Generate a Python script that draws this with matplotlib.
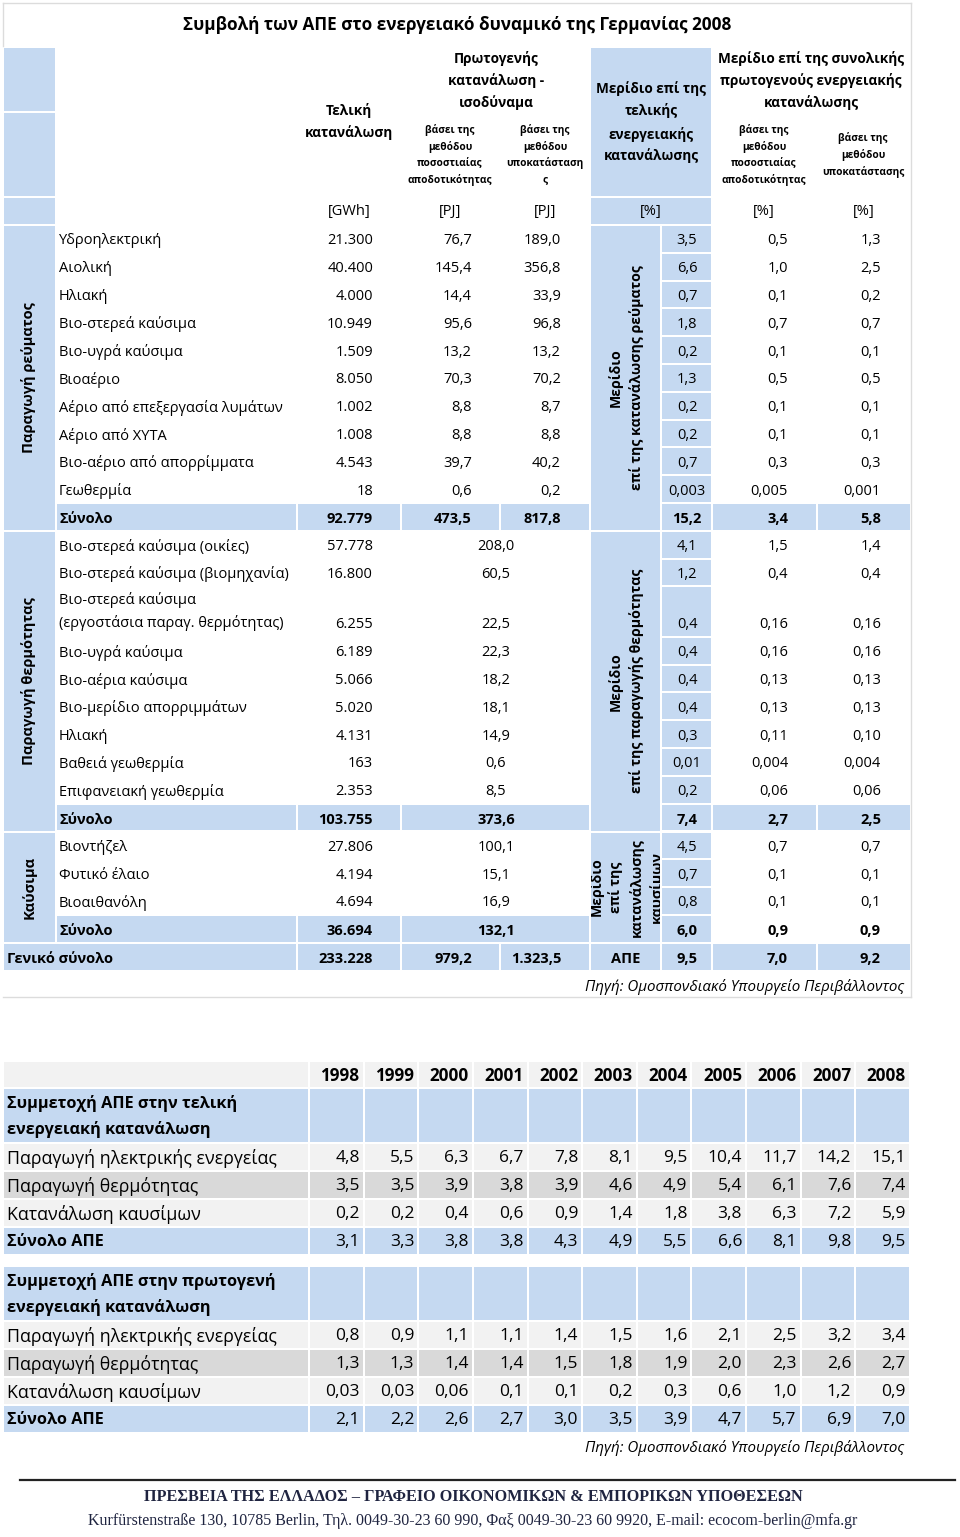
import matplotlib
matplotlib.use('Agg')
import matplotlib.pyplot as plt
from matplotlib.patches import Rectangle

plt.rcParams['font.family'] = ['Open Sans', 'DejaVu Sans']

# ---- data: top table (Germany 2008) ----
title = 'Συμβολή των ΑΠΕ στο ενεργειακό δυναμικό της Γερμανίας 2008'

elec_labels = ['Υδροηλεκτρική', 'Αιολική', 'Ηλιακή', 'Βιο-στερεά καύσιμα', 'Βιο-υγρά καύσιμα',
               'Βιοαέριο', 'Αέριο από επεξεργασία λυμάτων', 'Αέριο από ΧΥΤΑ',
               'Βιο-αέριο από απορρίμματα', 'Γεωθερμία', 'Σύνολο']
elec_gwh = ['21.300', '40.400', '4.000', '10.949', '1.509', '8.050', '1.002', '1.008', '4.543', '18', '92.779']
elec_pj_eff = ['76,7', '145,4', '14,4', '95,6', '13,2', '70,3', '8,8', '8,8', '39,7', '0,6', '473,5']
elec_pj_sub = ['189,0', '356,8', '33,9', '96,8', '13,2', '70,2', '8,7', '8,8', '40,2', '0,2', '817,8']
elec_share = ['3,5', '6,6', '0,7', '1,8', '0,2', '1,3', '0,2', '0,2', '0,7', '0,003', '15,2']
elec_prim_eff = ['0,5', '1,0', '0,1', '0,7', '0,1', '0,5', '0,1', '0,1', '0,3', '0,005', '3,4']
elec_prim_sub = ['1,3', '2,5', '0,2', '0,7', '0,1', '0,5', '0,1', '0,1', '0,3', '0,001', '5,8']

heat_labels = ['Βιο-στερεά καύσιμα (οικίες)', 'Βιο-στερεά καύσιμα (βιομηχανία)',
               'Βιο-στερεά καύσιμα\n(εργοστάσια παραγ. θερμότητας)', 'Βιο-υγρά καύσιμα',
               'Βιο-αέρια καύσιμα', 'Βιο-μερίδιο απορριμμάτων', 'Ηλιακή', 'Βαθειά γεωθερμία',
               'Επιφανειακή γεωθερμία', 'Σύνολο']
heat_gwh = ['57.778', '16.800', '6.255', '6.189', '5.066', '5.020', '4.131', '163', '2.353', '103.755']
heat_pj = ['208,0', '60,5', '22,5', '22,3', '18,2', '18,1', '14,9', '0,6', '8,5', '373,6']
heat_share = ['4,1', '1,2', '0,4', '0,4', '0,4', '0,4', '0,3', '0,01', '0,2', '7,4']
heat_prim_eff = ['1,5', '0,4', '0,16', '0,16', '0,13', '0,13', '0,11', '0,004', '0,06', '2,7']
heat_prim_sub = ['1,4', '0,4', '0,16', '0,16', '0,13', '0,13', '0,10', '0,004', '0,06', '2,5']

fuel_labels = ['Βιοντήζελ', 'Φυτικό έλαιο', 'Βιοαιθανόλη', 'Σύνολο']
fuel_gwh = ['27.806', '4.194', '4.694', '36.694']
fuel_pj = ['100,1', '15,1', '16,9', '132,1']
fuel_share = ['4,5', '0,7', '0,8', '6,0']
fuel_prim_eff = ['0,7', '0,1', '0,1', '0,9']
fuel_prim_sub = ['0,7', '0,1', '0,1', '0,9']

total_row = ['233.228', '979,2', '1.323,5', 'ΑΠΕ', '9,5', '7,0', '9,2']

# ---- data: bottom table (1998-2008) ----
years = ['1998', '1999', '2000', '2001', '2002', '2003', '2004', '2005', '2006', '2007', '2008']
row_names = ['Παραγωγή ηλεκτρικής ενεργείας', 'Παραγωγή θερμότητας', 'Κατανάλωση καυσίμων', 'Σύνολο ΑΠΕ']
final_elec = ['4,8', '5,5', '6,3', '6,7', '7,8', '8,1', '9,5', '10,4', '11,7', '14,2', '15,1']
final_heat = ['3,5', '3,5', '3,9', '3,8', '3,9', '4,6', '4,9', '5,4', '6,1', '7,6', '7,4']
final_fuel = ['0,2', '0,2', '0,4', '0,6', '0,9', '1,4', '1,8', '3,8', '6,3', '7,2', '5,9']
final_total = ['3,1', '3,3', '3,8', '3,8', '4,3', '4,9', '5,5', '6,6', '8,1', '9,8', '9,5']
prim_elec = ['0,8', '0,9', '1,1', '1,1', '1,4', '1,5', '1,6', '2,1', '2,5', '3,2', '3,4']
prim_heat = ['1,3', '1,3', '1,4', '1,4', '1,5', '1,8', '1,9', '2,0', '2,3', '2,6', '2,7']
prim_fuel = ['0,03', '0,03', '0,06', '0,1', '0,1', '0,2', '0,3', '0,6', '1,0', '1,2', '0,9']
prim_total = ['2,1', '2,2', '2,6', '2,7', '3,0', '3,5', '3,9', '4,7', '5,7', '6,9', '7,0']

source = 'Πηγή: Ομοσπονδιακό Υπουργείο Περιβάλλοντος'

BLUE = '#C5D9F1'
LIGHT = '#F2F2F2'
DARK = '#D9D9D9'
GRID = '#DCDCDC'

fig = plt.figure(figsize=(9.6, 15.37), dpi=100)
ax = fig.add_axes([0, 0, 1, 1])
ax.set_xlim(0, 960)
ax.set_ylim(1537, 0)
ax.axis('off')


def cell(x0, x1, y0, y1, color=BLUE):
    r = Rectangle((x0 + 1, y0 + 1), x1 - x0 - 2, y1 - y0 - 2, facecolor=color, edgecolor='none', zorder=1)
    ax.add_patch(r)
    return r


def txt(x, y, s, size=10, ha='left', bold=False, **kw):
    return ax.text(x, y, s, fontsize=size, ha=ha, va='center',
                   fontweight='bold' if bold else 'normal', zorder=3, **kw)


def lines(x, ys, items, size, bold=True):
    for y, s in zip(ys, items):
        txt(x, y, s, size, 'center', bold)


# ---------------- top table ----------------
X = [3, 56, 297, 401, 500, 590, 661, 712, 817, 911]
RH = 27.8
FS = 10.5
HS = 9.8

# frame
ax.plot([3, 911], [3, 3], color=GRID, lw=1)
ax.plot([3, 3], [3, 46], color=GRID, lw=1)
ax.plot([911, 911], [3, 997], color=GRID, lw=1)
ax.plot([3, 911], [997, 997], color=GRID, lw=1)

txt(457, 25, title, 12.3, 'center', True)

cell(X[0], X[1], 47, 112)
cell(X[0], X[1], 112, 197)
cell(X[0], X[1], 197, 225)
cell(X[5], X[7], 47, 197)
cell(X[5], X[7], 197, 225)

lines(349, [111, 133], ['Τελική', 'κατανάλωση'], HS)
lines(496, [58, 81, 103], ['Πρωτογενής', 'κατανάλωση -', 'ισοδύναμα'], HS)
lines(450, [130, 147, 163, 180], ['βάσει της', 'μεθόδου', 'ποσοστιαίας', 'αποδοτικότητας'], 7.3)
lines(545, [130, 147, 163, 180], ['βάσει της', 'μεθόδου', 'υποκατάσταση', 'ς'], 7.3)
lines(651, [89, 111, 134, 156], ['Μερίδιο επί της', 'τελικής', 'ενεργειακής', 'κατανάλωσης'], HS)
lines(811, [58, 81, 103], ['Μερίδιο επί της συνολικής', 'πρωτογενούς ενεργειακής', 'κατανάλωσης'], HS)
lines(764, [130, 147, 163, 180], ['βάσει της', 'μεθόδου', 'ποσοστιαίας', 'αποδοτικότητας'], 7.3)
lines(863, [138, 155, 172], ['βάσει της', 'μεθόδου', 'υποκατάστασης'], 7.3)
for x, u in zip([349, 450, 545, 651, 764, 864], ['[GWh]', '[PJ]', '[PJ]', '[%]', '[%]', '[%]']):
    txt(x, 212, u, FS, 'center')


def group(y0, name, share_title, labels, gwh, pj_a, pj_b, share, prim_a, prim_b,
          heights, total_hi=True, f_gap=22):
    y_end = y0 + sum(heights)
    cell(X[0], X[1], y0, y_end)
    txt(29, (y0 + y_end) / 2, name, 10.5, 'center', True, rotation=90)
    rf = cell(X[5], X[6], y0, y_end)
    n = len(share_title)
    for k, s in enumerate(share_title):
        t = txt(626 + (k - (n - 1) / 2) * f_gap, (y0 + y_end) / 2, s, 10.2, 'center', True, rotation=90)
        t.set_clip_on(True)
        t.set_clip_path(rf)
    y = y0
    for i, lab in enumerate(labels):
        h = heights[i]
        last = i == len(labels) - 1
        yb = y + h - RH / 2 + 2
        cell(X[6], X[7], y, y + h)
        if last:
            cell(X[1], X[2], y, y + h)
            cell(X[2], X[3], y, y + h)
            if pj_b is None:
                cell(X[3], X[5], y, y + h)
            else:
                cell(X[3], X[4], y, y + h)
                cell(X[4], X[5], y, y + h)
            if total_hi:
                cell(X[7], X[8], y, y + h)
                cell(X[8], X[9], y, y + h)
        parts = lab.split('\n')
        if len(parts) == 1:
            txt(59, yb, lab, FS, bold=last)
        else:
            txt(59, y + h / 2 - 11.5, parts[0], FS)
            txt(59, y + h / 2 + 11.5, parts[1], FS)
        txt(X[3] - 28, yb, gwh[i], FS, 'right', last)
        if pj_b is None:
            txt(496, yb, pj_a[i], FS, 'center', last)
        else:
            txt(X[4] - 28, yb, pj_a[i], FS, 'right', last)
            txt(X[5] - 29, yb, pj_b[i], FS, 'right', last)
        txt(687, yb, share[i], FS, 'center', last)
        txt(X[8] - 29, yb, prim_a[i], FS, 'right', last)
        txt(X[9] - 30, yb, prim_b[i], FS, 'right', last)
        y += h
    return y_end


y = 225
y = group(y, 'Παραγωγή ρεύματος', ['Μερίδιο', 'επί της κατανάλωσης ρεύματος'],
          elec_labels, elec_gwh, elec_pj_eff, elec_pj_sub, elec_share, elec_prim_eff, elec_prim_sub,
          [RH] * len(elec_labels))
heat_h = [RH] * len(heat_labels)
heat_h[2] = 50.5
y = group(y, 'Παραγωγή θερμότητας', ['Μερίδιο', 'επί της παραγωγής θερμότητας'],
          heat_labels, heat_gwh, heat_pj, None, heat_share, heat_prim_eff, heat_prim_sub, heat_h)
y = group(y, 'Καύσιμα', ['Μερίδιο', 'επί της', 'κατανάλωσης', 'καυσίμων'],
          fuel_labels, fuel_gwh, fuel_pj, None, fuel_share, fuel_prim_eff, fuel_prim_sub,
          [RH] * len(fuel_labels), total_hi=False, f_gap=20)

# grand total
yb = y + RH / 2 + 2
cell(X[0], X[2], y, y + RH)
for k in range(2, 9):
    cell(X[k], X[k + 1], y, y + RH)
txt(7, yb, 'Γενικό σύνολο', FS, bold=True)
txt(X[3] - 28, yb, total_row[0], FS, 'right', True)
txt(X[4] - 28, yb, total_row[1], FS, 'right', True)
txt(X[5] - 29, yb, total_row[2], FS, 'right', True)
txt(626, yb, total_row[3], FS, 'center', True)
txt(687, yb, total_row[4], FS, 'center', True)
txt(X[8] - 29, yb, total_row[5], FS, 'right', True)
txt(X[9] - 30, yb, total_row[6], FS, 'right', True)

txt(904, 987, source, 10.9, 'right', style='italic')

# ---------------- bottom table ----------------
XL0, XL1, XR = 3, 309, 910
cw = (XR - XL1) / len(years)
xs = [XL1 + i * cw for i in range(len(years) + 1)]
FS2 = 12.8
HS2 = 11.7

y = 1061
cell(XL0, XL1, y, y + 27, LIGHT)
for i, yr in enumerate(years):
    cell(xs[i], xs[i + 1], y, y + 27, LIGHT)
    txt(xs[i + 1] - 4, y + 15, yr, 12.3, 'right', True)


def block(y, head, rows):
    cell(XL0, XL1, y, y + 55)
    for i in range(len(years)):
        cell(xs[i], xs[i + 1], y, y + 55)
    txt(7, y + 15, head[0], HS2, bold=True)
    txt(7, y + 42, head[1], HS2, bold=True)
    y += 55
    colors = [LIGHT, DARK, LIGHT, BLUE]
    for r, (name, vals) in enumerate(zip(row_names, rows)):
        last = r == len(rows) - 1
        cell(XL0, XL1, y, y + 28, colors[r])
        txt(7, y + 15, name, HS2 if last else FS2, bold=last)
        for i, v in enumerate(vals):
            cell(xs[i], xs[i + 1], y, y + 28, colors[r])
            txt(xs[i + 1] - 4, y + 15, v, 12.5, 'right')
        y += 28
    return y


block(1088, ['Συμμετοχή ΑΠΕ στην τελική', 'ενεργειακή κατανάλωση'],
      [final_elec, final_heat, final_fuel, final_total])
block(1266, ['Συμμετοχή ΑΠΕ στην πρωτογενή', 'ενεργειακή κατανάλωση'],
      [prim_elec, prim_heat, prim_fuel, prim_total])

txt(904, 1448, source, 10.9, 'right', style='italic')

# footer
ax.plot([20, 955], [1480, 1480], color='#222222', lw=1.6)
ax.text(473, 1497, 'ΠΡΕΣΒΕΙΑ ΤΗΣ ΕΛΛΑΔΟΣ – ΓΡΑΦΕΙΟ ΟΙΚΟΝΟΜΙΚΩΝ & ΕΜΠΟΡΙΚΩΝ ΥΠΟΘΕΣΕΩΝ',
        fontsize=11.7, fontweight='bold', ha='center', va='center', color='#1F2440',
        family=['Liberation Serif', 'DejaVu Serif'])
ax.text(473, 1521, 'Kurfürstenstraße 130, 10785 Berlin, Τηλ. 0049-30-23 60 990, Φαξ 0049-30-23 60 9920, E-mail: ecocom-berlin@mfa.gr',
        fontsize=11.5, ha='center', va='center', color='#1F2440',
        family=['Liberation Serif', 'DejaVu Serif'])

fig.savefig('out.png', dpi=100)
